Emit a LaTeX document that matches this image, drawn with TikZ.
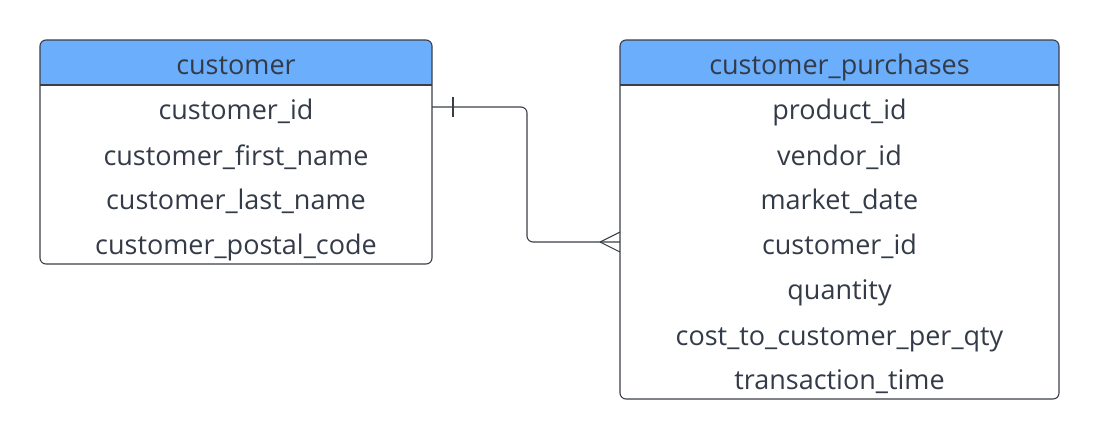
\documentclass[tikz,border=0pt]{standalone}
\usepackage{fontspec}
\setmainfont{Open Sans}
\definecolor{hdr}{HTML}{6AAEFC}
\definecolor{txt}{HTML}{343B48}
\definecolor{edge}{HTML}{3A3F47}
\begin{document}
\begin{tikzpicture}[x=1pt,y=-1pt,
  boxframe/.style={draw=edge, line width=1.1pt, rounded corners=6pt, fill=none, inner sep=0pt},
  field/.style={text=txt, font=\fontsize{27}{30}\selectfont, inner sep=0pt, anchor=base},
  title/.style={text=txt, font=\fontsize{27}{30}\selectfont, inner sep=0pt, anchor=base},
  link/.style={draw=edge, line width=1.1pt}]
\useasboundingbox (0,0) rectangle (1100,440);
% header fills
\fill[hdr] (40,85) [rounded corners=6pt] -- (40,40) -- (432,40) [sharp corners] -- (432,85) -- cycle;
\fill[hdr] (620,85) [rounded corners=6pt] -- (620,40) -- (1059,40) [sharp corners] -- (1059,85) -- cycle;
% boxes
\node[boxframe, minimum width=392pt, minimum height=224pt] (cust) at (236,152) {};
\node[boxframe, minimum width=439pt, minimum height=359pt] (purch) at (839.5,219.5) {};
\draw[edge, line width=1.1pt] (40,85) -- (432,85);
\draw[edge, line width=1.1pt] (620,85) -- (1059,85);
% titles
\node[title] (custT) at (236,74) {customer};
\node[title] (purchT) at (839.5,74) {customer\_purchases};
% customer fields
\node[field] (c1) at (236,119) {customer\_id};
\node[field] (c2) at (236,165) {customer\_first\_name};
\node[field] (c3) at (236,209) {customer\_last\_name};
\node[field] (c4) at (236,254) {customer\_postal\_code};
% purchase fields
\node[field] (p1) at (839.5,119) {product\_id};
\node[field] (p2) at (839.5,165) {vendor\_id};
\node[field] (p3) at (839.5,209) {market\_date};
\node[field] (p4) at (839.5,254) {customer\_id};
\node[field] (p5) at (839.5,299) {quantity};
\node[field] (p6) at (839.5,345) {cost\_to\_customer\_per\_qty};
\node[field] (p7) at (839.5,389) {transaction\_time};
% connector
\coordinate (s) at (432,107);
\coordinate (e) at (620,242);
\draw[link, rounded corners=6pt] (s) -- (527,107) -- (527,242) -- (e);
\draw[link] (453,97) -- (453,117);
\draw[link] (600,242) -- (620,232);
\draw[link] (600,242) -- (620,252);
\end{tikzpicture}
\end{document}
